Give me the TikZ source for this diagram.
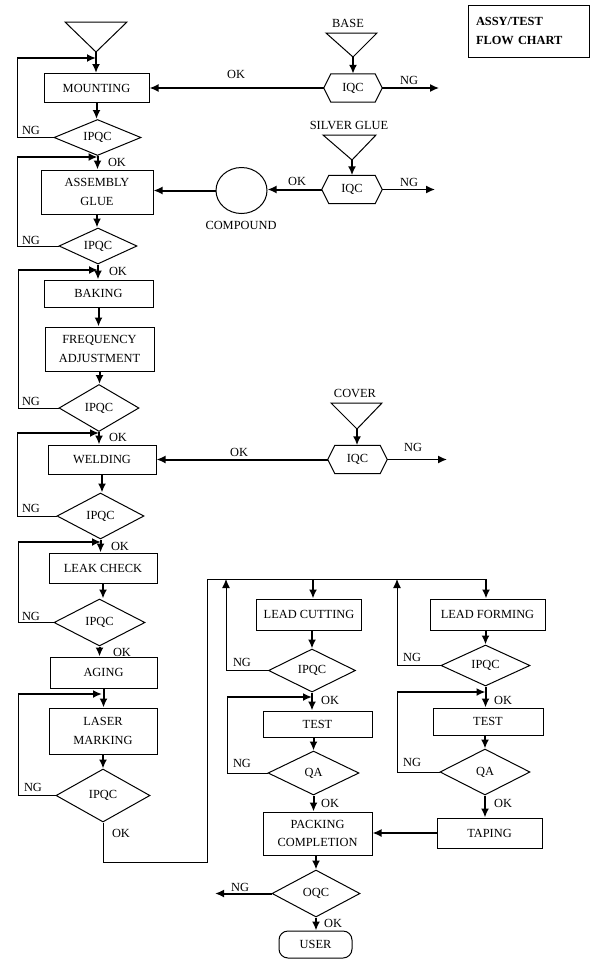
\documentclass[tikz,border=0pt]{standalone}
\usepackage{fontspec}
\setmainfont{Liberation Serif}
\usetikzlibrary{arrows.meta,shapes.geometric}
\begin{document}
\begin{tikzpicture}[x=1pt,y=-1pt,
  every node/.style={font=\fontsize{12.4}{18.5}\selectfont, inner sep=0pt},
  box/.style={draw, line width=1pt, rectangle, align=center},
  dec/.style={draw, line width=1pt, diamond, aspect=2},
  hexn/.style={rectangle, minimum width=58pt, minimum height=28pt},
  hexline/.style={line width=1pt},
  thk/.style={line width=2pt},
  thn/.style={line width=1pt},
  med/.style={line width=1.4pt},
  arr/.style={-{Latex[length=9pt,width=8pt]}}
]
\useasboundingbox (0,0) rectangle (600,959);

% ---------- title
\node[draw, line width=1pt, minimum width=121pt, minimum height=52pt, text width=105pt, inner xsep=8pt, align=left,
      font=\fontsize{12.4}{19}\selectfont\bfseries] (title) at (528.5,31) {ASSY/TEST\\FLOW CHART};

% ---------- left column
\draw[thn] (65,22) -- (127,22) -- (96,52) -- cycle;
\coordinate (t0) at (96,52);
\node[box, minimum width=105pt, minimum height=29pt] (mount) at (96.5,88) {MOUNTING};
\node[dec, minimum width=87pt, minimum height=36pt] (ipqc1) at (97.5,137.5) {IPQC};
\node[box, minimum width=112pt, minimum height=44pt] (glue) at (97,192) {ASSEMBLY\\GLUE};
\node[dec, minimum width=78pt, minimum height=36pt] (ipqc2) at (98,246) {IPQC};
\node[box, minimum width=109pt, minimum height=27pt] (baking) at (98.5,293.5) {BAKING};
\node[box, minimum width=109pt, minimum height=44pt] (freq) at (99.5,349) {FREQUENCY\\ADJUSTMENT};
\node[dec, minimum width=80pt, minimum height=47pt] (ipqc3) at (99,408) {IPQC};
\node[box, minimum width=108pt, minimum height=29pt] (weld) at (102,459.5) {WELDING};
\node[dec, minimum width=87pt, minimum height=46pt] (ipqc4) at (100.5,516) {IPQC};
\node[box, minimum width=108pt, minimum height=30pt] (leak) at (103,568) {LEAK CHECK};
\node[dec, minimum width=91pt, minimum height=47pt] (ipqc5) at (99.5,622.5) {IPQC};
\node[box, minimum width=107pt, minimum height=31pt] (aging) at (103.5,672.5) {AGING};
\node[box, minimum width=108pt, minimum height=46pt] (laser) at (103,731) {LASER\\MARKING};
\node[dec, minimum width=94pt, minimum height=53pt] (ipqc6) at (103,795.5) {IPQC};

\draw[thk,arr] (t0) -- (t0 |- mount.north);
\draw[thk,arr] (mount.south) -- (mount.south |- ipqc1.north);
\draw[thk,arr] (ipqc1.south) -- (ipqc1.south |- glue.north);
\draw[thk,arr] (glue.south) -- (glue.south |- ipqc2.north);
\draw[thk,arr] (ipqc2.south) -- (ipqc2.south |- baking.north);
\draw[thk,arr] (baking.south) -- (baking.south |- freq.north);
\draw[thk,arr] (freq.south) -- (freq.south |- ipqc3.north);
\draw[thk,arr] (ipqc3.south) -- (ipqc3.south |- weld.north);
\draw[thk,arr] (weld.south) -- (weld.south |- ipqc4.north);
\draw[thk,arr] (ipqc4.south) -- (ipqc4.south |- leak.north);
\draw[thk,arr] (leak.south) -- (leak.south |- ipqc5.north);
\draw[thk,arr] (ipqc5.south) -- (ipqc5.south |- aging.north);
\draw[thk,arr] (aging.south) -- (aging.south |- laser.north);
\draw[thk,arr] (laser.south) -- (laser.south |- ipqc6.north);

% NG loops
\coordinate (j1) at (96,58);   \coordinate (c1) at (17,58);
\coordinate (j2) at (97.5,157);  \coordinate (c2) at (17,157);
\coordinate (j3) at (98,270);  \coordinate (c3) at (18,270);
\coordinate (j4) at (99,433);  \coordinate (c4) at (17,433);
\coordinate (j5) at (101,542); \coordinate (c5) at (18,542);
\coordinate (j6) at (102,694); \coordinate (c6) at (18,694);
\draw[thn] (ipqc1.west) -| (c1); \draw[thk,arr] (c1) -- (j1);
\draw[thn] (ipqc2.west) -| (c2); \draw[thk,arr] (c2) -- (j2);
\draw[thn] (ipqc3.west) -| (c3); \draw[thk,arr] (c3) -- (j3);
\draw[thn] (ipqc4.west) -| (c4); \draw[thk,arr] (c4) -- (j4);
\draw[thn] (ipqc5.west) -| (c5); \draw[thk,arr] (c5) -- (j5);
\draw[thn] (ipqc6.west) -| (c6); \draw[thk,arr] (c6) -- (j6);

\node at (31,130) {NG};
\node at (31,240) {NG};
\node at (31,401) {NG};
\node at (31,508) {NG};
\node at (31,616) {NG};
\node at (33,787) {NG};

\node at (117,162) {OK};
\node at (118,271) {OK};
\node at (118,437) {OK};
\node at (120,546) {OK};
\node at (122,652) {OK};
\node at (121,833) {OK};

% ---------- incoming materials
\node at (348,23) {BASE};
\draw[thn] (326,33) -- (377,33) -- (353,57) -- cycle;
\coordinate (tb) at (353,57);
\node[hexn] (iqc1) at (353,88) {IQC};
\draw[hexline] (iqc1.west) -- ([xshift=7pt]iqc1.north west) -- ([xshift=-7pt]iqc1.north east) -- (iqc1.east) -- ([xshift=-7pt]iqc1.south east) -- ([xshift=7pt]iqc1.south west) -- cycle;
\draw[thk,arr] (tb) -- (tb |- iqc1.north);
\draw[thk,arr] (iqc1.west) -- (iqc1.west -| mount.east);
\node at (236,74) {OK};
\coordinate (ng1) at (439,88);
\draw[med,arr] (iqc1.east) -- (ng1);
\node at (409,80) {NG};

\node at (349,125) {SILVER GLUE};
\draw[thn] (323,135) -- (376,135) -- (352,160) -- cycle;
\coordinate (ts) at (352,160);
\node[hexn, minimum width=60pt] (iqc2) at (352,189.5) {IQC};
\draw[hexline] (iqc2.west) -- ([xshift=7pt]iqc2.north west) -- ([xshift=-7pt]iqc2.north east) -- (iqc2.east) -- ([xshift=-7pt]iqc2.south east) -- ([xshift=7pt]iqc2.south west) -- cycle;
\draw[thk,arr] (ts) -- (ts |- iqc2.north);
\node[draw, line width=1pt, ellipse, minimum width=51pt, minimum height=46pt] (comp) at (241.5,190.5) {};
\node at (241,225) {COMPOUND};
\draw[thk,arr] (iqc2.west) -- (iqc2.west -| comp.east);
\node at (297,181) {OK};
\draw[thk,arr] (comp.west) -- (comp.west -| glue.east);
\coordinate (ng2) at (435,189.5);
\draw[med,arr] (iqc2.east) -- (ng2);
\node at (409,182) {NG};

\node at (355,393) {COVER};
\draw[thn] (331,403) -- (382,403) -- (357,429) -- cycle;
\coordinate (tc) at (357,429);
\node[hexn, minimum width=59pt] (iqc3) at (357.5,459.5) {IQC};
\draw[hexline] (iqc3.west) -- ([xshift=7pt]iqc3.north west) -- ([xshift=-7pt]iqc3.north east) -- (iqc3.east) -- ([xshift=-7pt]iqc3.south east) -- ([xshift=7pt]iqc3.south west) -- cycle;
\draw[thk,arr] (tc) -- (tc |- iqc3.north);
\draw[thk,arr] (iqc3.west) -- (iqc3.west -| weld.east);
\node at (239,452) {OK};
\coordinate (ng3) at (447,459.5);
\draw[med,arr] (iqc3.east) -- (ng3);
\node at (413,447) {NG};

% ---------- lower right
\node[box, minimum width=105pt, minimum height=31pt] (cut) at (309,614.5) {LEAD CUTTING};
\node[dec, minimum width=87pt, minimum height=43pt] (ipqc7) at (312,670.5) {IPQC};
\node[box, minimum width=109pt, minimum height=26pt] (test1) at (317.5,724) {TEST};
\node[dec, minimum width=91pt, minimum height=44pt] (qa1) at (313.5,773) {QA};
\node[box, minimum width=109pt, minimum height=43pt] (pack) at (317.5,833.5) {PACKING\\COMPLETION};
\node[dec, minimum width=88pt, minimum height=47pt] (oqc) at (316,893.5) {OQC};
\node[draw, line width=1pt, rounded corners=9pt, minimum width=73pt, minimum height=27pt] (user) at (315.5,944.5) {USER};

\node[box, minimum width=115pt, minimum height=31pt] (form) at (487.5,614.5) {LEAD FORMING};
\node[dec, minimum width=89pt, minimum height=41pt] (ipqc8) at (485.5,665.5) {IPQC};
\node[box, minimum width=110pt, minimum height=27pt] (test2) at (488,721.5) {TEST};
\node[dec, minimum width=90pt, minimum height=46pt] (qa2) at (485,772) {QA};
\node[box, minimum width=105pt, minimum height=30pt] (tape) at (489.5,833) {TAPING};

% feed line
\coordinate (f1) at (103,862);
\coordinate (f2) at (207,862);
\coordinate (f3) at (207,579);
\coordinate (fc) at (313,579);
\coordinate (fm) at (397,579);
\coordinate (ff) at (486,579);
\draw[thn] (ipqc6.south) -- (f1) -- (f2) -- (f3) -- (ff);
\draw[thk,arr] (fc) -- (fc |- cut.north);
\draw[thk,arr] (ff) -- (ff |- form.north);

% lead cutting branch
\draw[thk,arr] (cut.south -| ipqc7.north) -- (ipqc7.north);
\coordinate (k1) at (226,670.5);
\draw[thn,arr] (ipqc7.west) -- (k1) -- (k1 |- f3);
\node at (242,662) {NG};
\draw[thk,arr] (ipqc7.south) -- (ipqc7.south |- test1.north);
\node at (330,700) {OK};
\coordinate (k2) at (227,773);
\coordinate (k3) at (227,697);
\coordinate (k4) at (312,697);
\draw[thn] (qa1.west) -- (k2) -- (k3);
\draw[thk,arr] (k3) -- (k4);
\draw[thk,arr] (test1.south -| qa1.north) -- (qa1.north);
\node at (242,763) {NG};
\draw[thk,arr] (qa1.south) -- (qa1.south |- pack.north);
\node at (330,803) {OK};

% lead forming branch
\coordinate (m1) at (397,665.5);
\draw[thn,arr] (ipqc8.west) -- (m1) -- (fm);
\node at (412,657) {NG};
\draw[thk,arr] (form.south -| ipqc8.north) -- (ipqc8.north);
\draw[thk,arr] (ipqc8.south) -- (ipqc8.south |- test2.north);
\node at (503,700) {OK};
\coordinate (m2) at (397,772);
\coordinate (m3) at (397,692);
\coordinate (m4) at (485.5,692);
\draw[thn] (qa2.west) -- (m2) -- (m3);
\draw[thk,arr] (m3) -- (m4);
\draw[thk,arr] (test2.south -| qa2.north) -- (qa2.north);
\node at (412,762) {NG};
\draw[thk,arr] (qa2.south) -- (qa2.south |- tape.north);
\node at (503,803) {OK};

\draw[thk,arr] (tape.west) -- (tape.west -| pack.east);

% output
\draw[thk,arr] (pack.south -| oqc.north) -- (oqc.north);
\coordinate (ng4) at (215,893.5);
\draw[thk,arr] (oqc.west) -- (ng4);
\node at (240,887) {NG};
\draw[thk,arr] (oqc.south) -- (oqc.south |- user.north);
\node at (333,923) {OK};
\end{tikzpicture}
\end{document}
